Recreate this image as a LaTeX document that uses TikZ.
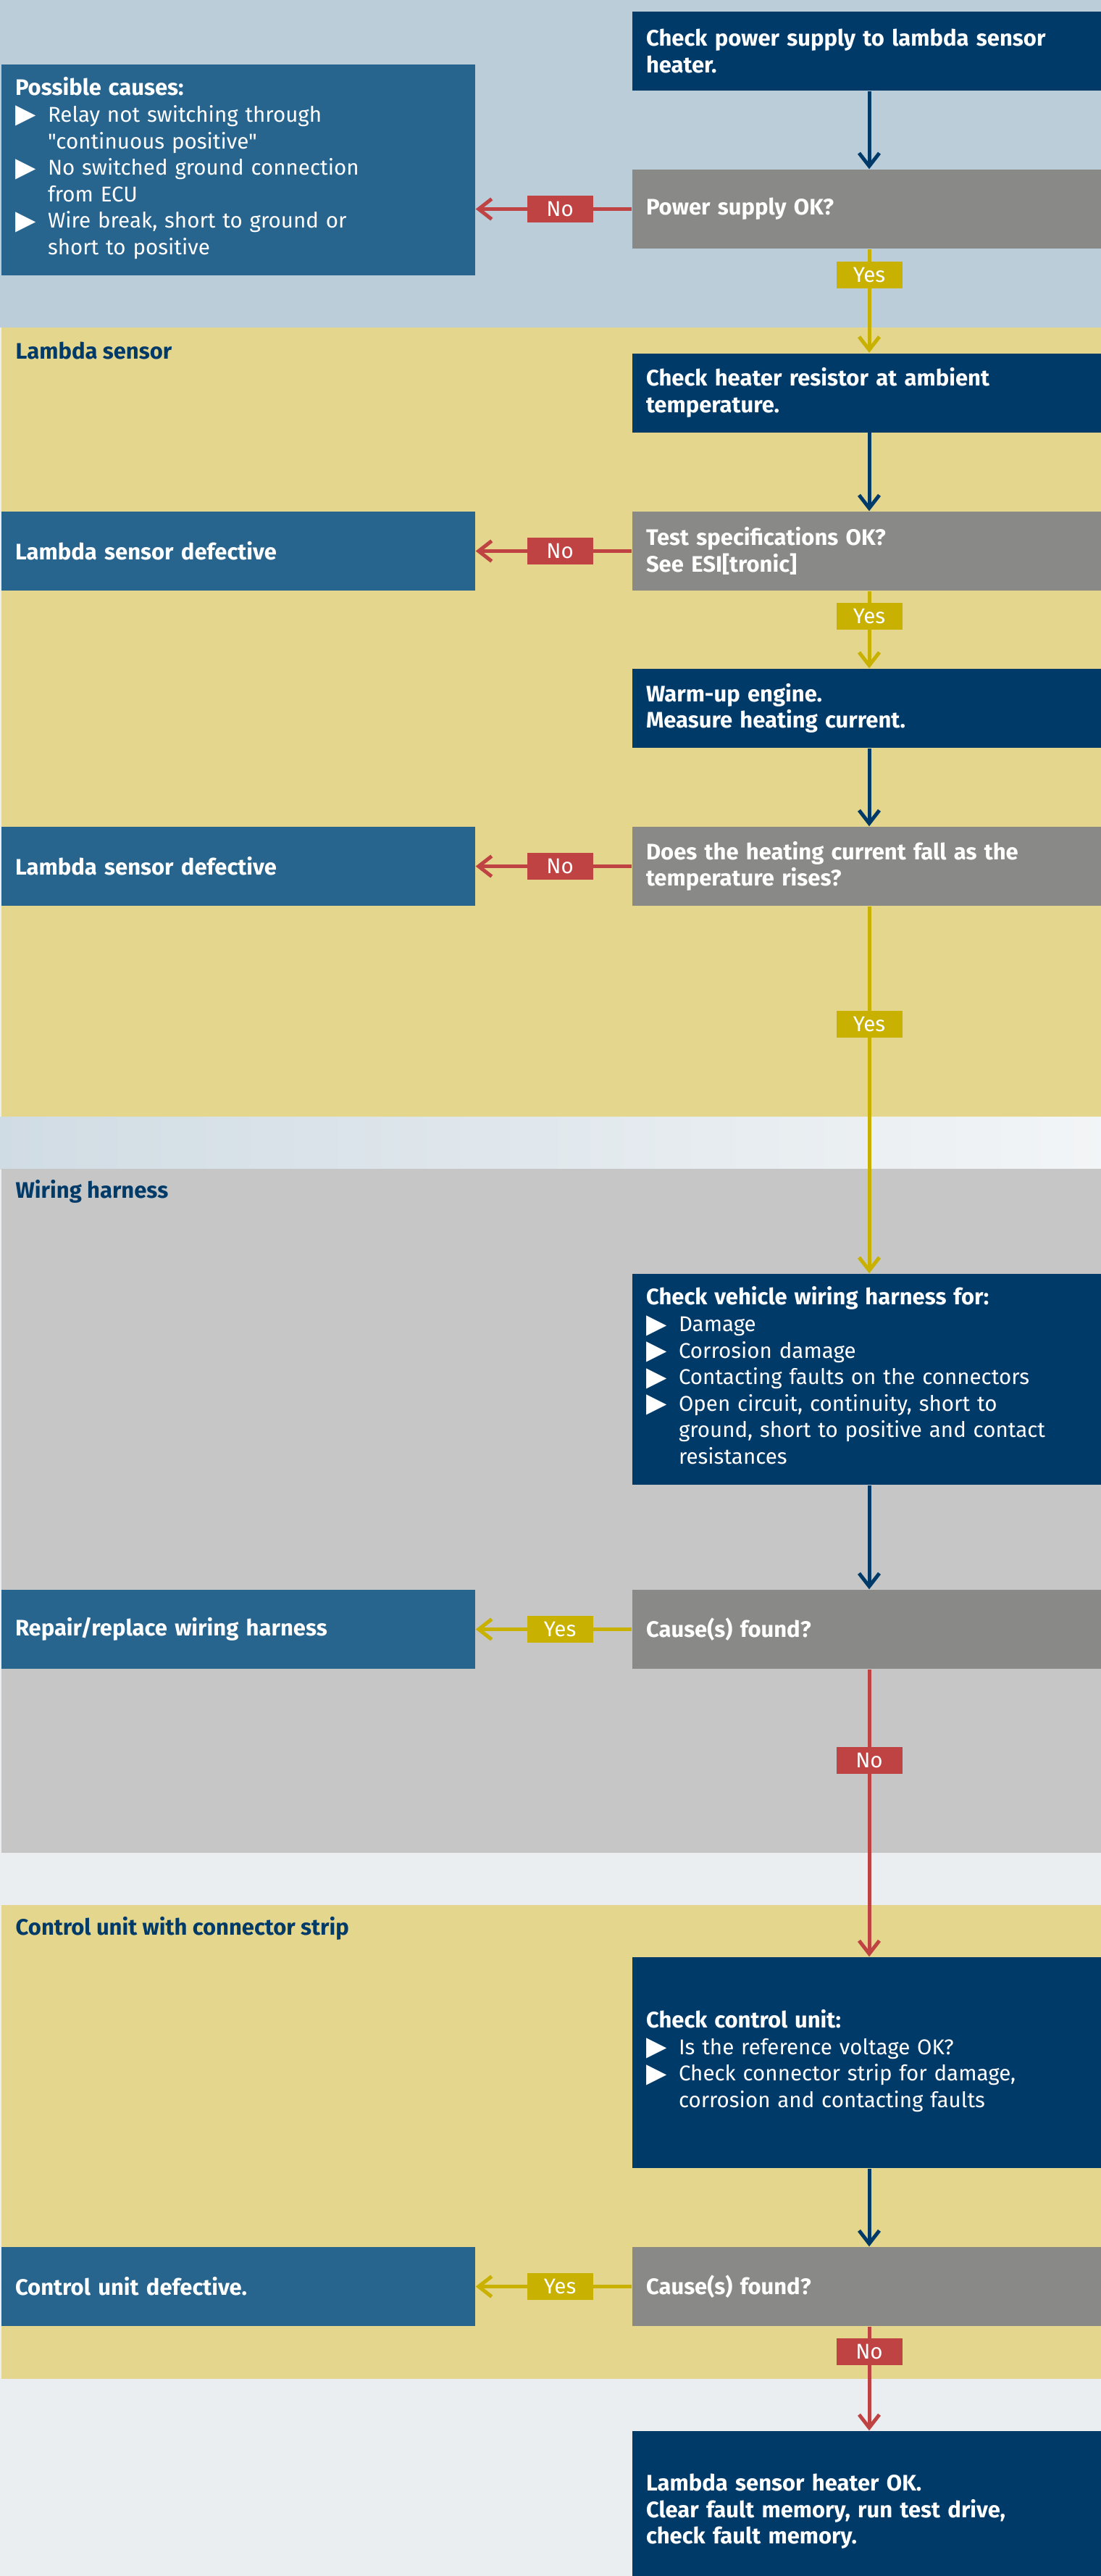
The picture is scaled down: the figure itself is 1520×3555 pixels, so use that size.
\documentclass[tikz,border=0pt]{standalone}
\usepackage{fontspec}
\setmainfont{Fira Sans}[Ligatures=TeXOff,BoldFeatures={Scale=1.05}]
\newfontfamily\symfont[Scale=1.25]{DejaVu Sans}
\usetikzlibrary{arrows.meta}

\definecolor{topbg}{HTML}{BBCDD9}
\definecolor{lowbg}{HTML}{EAEEF1}
\definecolor{sandband}{HTML}{E4D68C}
\definecolor{greyband}{HTML}{C5C6C5}
\definecolor{navy}{HTML}{003A68}
\definecolor{steel}{HTML}{27648E}
\definecolor{askgrey}{HTML}{898987}
\definecolor{nored}{HTML}{BF4343}
\definecolor{yesyellow}{HTML}{C8B100}

\newcommand{\fsz}{\fontsize{8.4pt}{10.4pt}\selectfont}
\newcommand{\bul}{\raisebox{-0.15mm}{\symfont\char"25B6}}
\newenvironment{bullets}{\begin{tabular}[t]{@{}p{4.5mm}@{}l@{}}}{\end{tabular}}

\begin{document}
\begin{tikzpicture}[x=0.1mm,y=-0.1mm,>={Straight Barb[length=1.8mm,width=2.8mm]}]
		\tikzstyle{every node} = [font=\fsz,text=white,inner sep=0pt];
		\tikzstyle{act} = [fill=navy,text width=61.6mm,inner xsep=1.9mm,minimum height=10.9mm,align=left,font=\fsz\bfseries];
		\tikzstyle{tall} = [minimum height=29.1mm];
		\tikzstyle{ask} = [act,fill=askgrey];
		\tikzstyle{res} = [act,fill=steel];
		\tikzstyle{band} = [font=\fsz\bfseries,text=navy,anchor=west];
		\tikzstyle{lbl} = [minimum width=9.1mm,minimum height=3.7mm,font=\fsz];
		\tikzstyle{nolbl} = [lbl,fill=nored];
		\tikzstyle{yeslbl} = [lbl,fill=yesyellow];
		\tikzstyle{flow} = [->,line width=0.5mm];
		\useasboundingbox (0,0) rectangle (1520,3555);
		\clip (0,0) rectangle (1520,3555);
		% background and bands
		\fill[lowbg] (0,0) rectangle (1520,3555);
		\fill[topbg] (0,0) rectangle (1520,452);
		\shade[left color=topbg!55!lowbg,right color=lowbg!60!white] (0,1541) rectangle (1520,1613);
		\fill[sandband] (2,452) rectangle (1520,1541);
		\fill[greyband] (2,1613) rectangle (1520,2557);
		\fill[sandband] (2,2629) rectangle (1520,3283);
		\node[band] (s1) at (21,484) {Lambda sensor};
		\node[band] (s2) at (21,1644) {Wiring harness};
		\node[band] (s3) at (21,2661) {Control unit with connector strip};
		% main column
		\node[act] (1) at (1200,70.5) {Check power supply to lambda sensor\\heater.};
		\node[ask] (2) at (1200,288.5) {Power supply OK?};
		\node[act] (3) at (1200,542) {Check heater resistor at ambient\\temperature.};
		\node[ask] (4) at (1200,760.5) {Test specifications OK?\\See ESI[tronic]};
		\node[act] (5) at (1200,977.5) {Warm-up engine.\\Measure heating current.};
		\node[ask] (6) at (1200,1195.5) {Does the heating current fall as the\\temperature rises?};
		\node[act,tall,font=\fsz] (7) at (1200,1903.5) {\textbf{Check vehicle wiring harness for:}\\
			\begin{bullets}
				\bul & Damage\\
				\bul & Corrosion damage\\
				\bul & Contacting faults on the connectors\\
				\bul & Open circuit, continuity, short to\\
				     & ground, short to positive and contact\\
				     & resistances
			\end{bullets}};
		\node[ask] (8) at (1200,2248.5) {Cause(s) found?};
		\node[act,tall,font=\fsz] (9) at (1200,2846.5) {\textbf{Check control unit:}\\
			\begin{bullets}
				\bul & Is the reference voltage OK?\\
				\bul & Check connector strip for damage,\\
				     & corrosion and contacting faults
			\end{bullets}};
		\node[ask] (10) at (1200,3155.5) {Cause(s) found?};
		\node[act,minimum height=22.2mm] (11) at (1200,3466) {Lambda sensor heater OK.\\Clear fault memory, run test drive,\\check fault memory.};
		% side column
		\node[res,tall,font=\fsz] (2a) at (329,234.5) {\textbf{Possible causes:}\\
			\begin{bullets}
				\bul & Relay not switching through\\
				     & "continuous positive"\\
				\bul & No switched ground connection\\
				     & from ECU\\
				\bul & Wire break, short to ground or\\
				     & short to positive
			\end{bullets}};
		\node[res] (4a) at (329,760.5) {Lambda sensor defective};
		\node[res] (6a) at (329,1195.5) {Lambda sensor defective};
		\node[res] (8a) at (329,2248.5) {Repair/replace wiring harness};
		\node[res] (10a) at (329,3155.5) {Control unit defective.};
		% connectors
		\draw[flow,navy] (1) -- (2);
		\draw[flow,yesyellow] (2) -- node[yeslbl,pos=.253]{Yes} (3);
		\draw[flow,navy] (3) -- (4);
		\draw[flow,yesyellow] (4) -- node[yeslbl,pos=.329]{Yes} (5);
		\draw[flow,navy] (5) -- (6);
		\draw[flow,yesyellow] (6) -- node[yeslbl,pos=.321]{Yes} (7);
		\draw[flow,navy] (7) -- (8);
		\draw[flow,nored] (8) -- node[nolbl,pos=.318]{No} (9);
		\draw[flow,navy] (9) -- (10);
		\draw[flow,nored] (10) -- node[nolbl,pos=.245]{No} (11);
		\draw[flow,nored] (2.west) -- node[nolbl,pos=.46]{No} (2.west -| 2a.east);
		\draw[flow,nored] (4) -- node[nolbl,pos=.46]{No} (4a);
		\draw[flow,nored] (6) -- node[nolbl,pos=.46]{No} (6a);
		\draw[flow,yesyellow] (8) -- node[yeslbl,pos=.46]{Yes} (8a);
		\draw[flow,yesyellow] (10) -- node[yeslbl,pos=.46]{Yes} (10a);
	\end{tikzpicture}
\end{document}
